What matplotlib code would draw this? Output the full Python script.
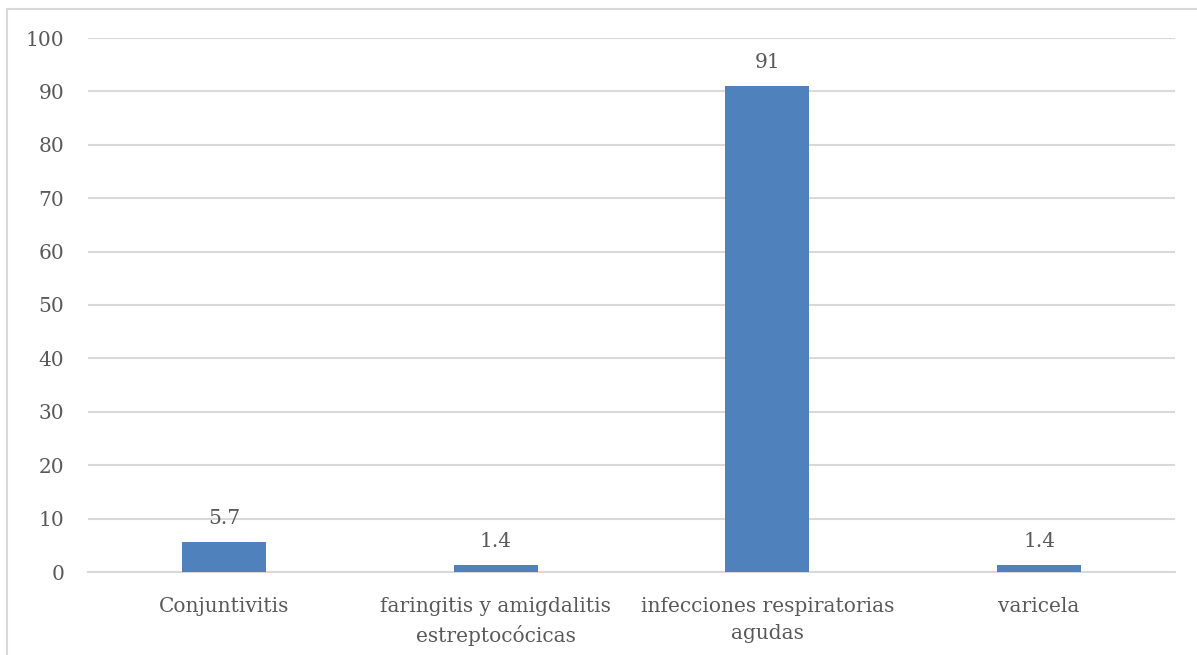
import matplotlib.pyplot as plt
from matplotlib.patches import Rectangle

categories = ['Conjuntivitis', 'faringitis y amigdalitis\nestreptocócicas',
              'infecciones respiratorias\nagudas', 'varicela']
values = [5.7, 1.4, 91, 1.4]
labels = ['5.7', '1.4', '91', '1.4']

plt.rcParams['font.family'] = ['DejaVu Serif']
text_color = '#595959'
fsize = 14.5

fig = plt.figure(figsize=(11.97, 6.55), dpi=100)
ax = fig.add_axes([88 / 1197, 1 - 572 / 655, 1087 / 1197, 534 / 655])

x = range(len(categories))
bars = ax.bar(x, values, width=0.31, color='#4F81BD', zorder=3)

for rect, lab in zip(bars, labels):
    ax.annotate(lab, xy=(rect.get_x() + rect.get_width() / 2, rect.get_height()),
                xytext=(0, 10), textcoords='offset points',
                ha='center', va='bottom', fontsize=fsize, color=text_color)

ax.set_xlim(-0.5, 3.5)
ax.set_ylim(0, 100)
ax.set_yticks(range(0, 101, 10))
ax.set_xticks(list(x))
ax.set_xticklabels(categories, linespacing=1.55)
ax.yaxis.grid(True, color='#D9D9D9', linewidth=1.5, zorder=0)
ax.tick_params(axis='both', length=0, labelsize=fsize, colors=text_color)
ax.tick_params(axis='y', pad=17)
ax.tick_params(axis='x', pad=18)
for s in ['top', 'right', 'left']:
    ax.spines[s].set_visible(False)
ax.spines['bottom'].set_color('#D9D9D9')
ax.spines['bottom'].set_linewidth(1.5)

# outer chart border, running off the right and bottom edges
fig.patches.append(Rectangle((7 / 1197, -0.1), 1.2, 1 - 9 / 655 + 0.1,
                             transform=fig.transFigure, fill=False,
                             edgecolor='#D9D9D9', linewidth=1.5))

fig.savefig('out.png', dpi=100)
